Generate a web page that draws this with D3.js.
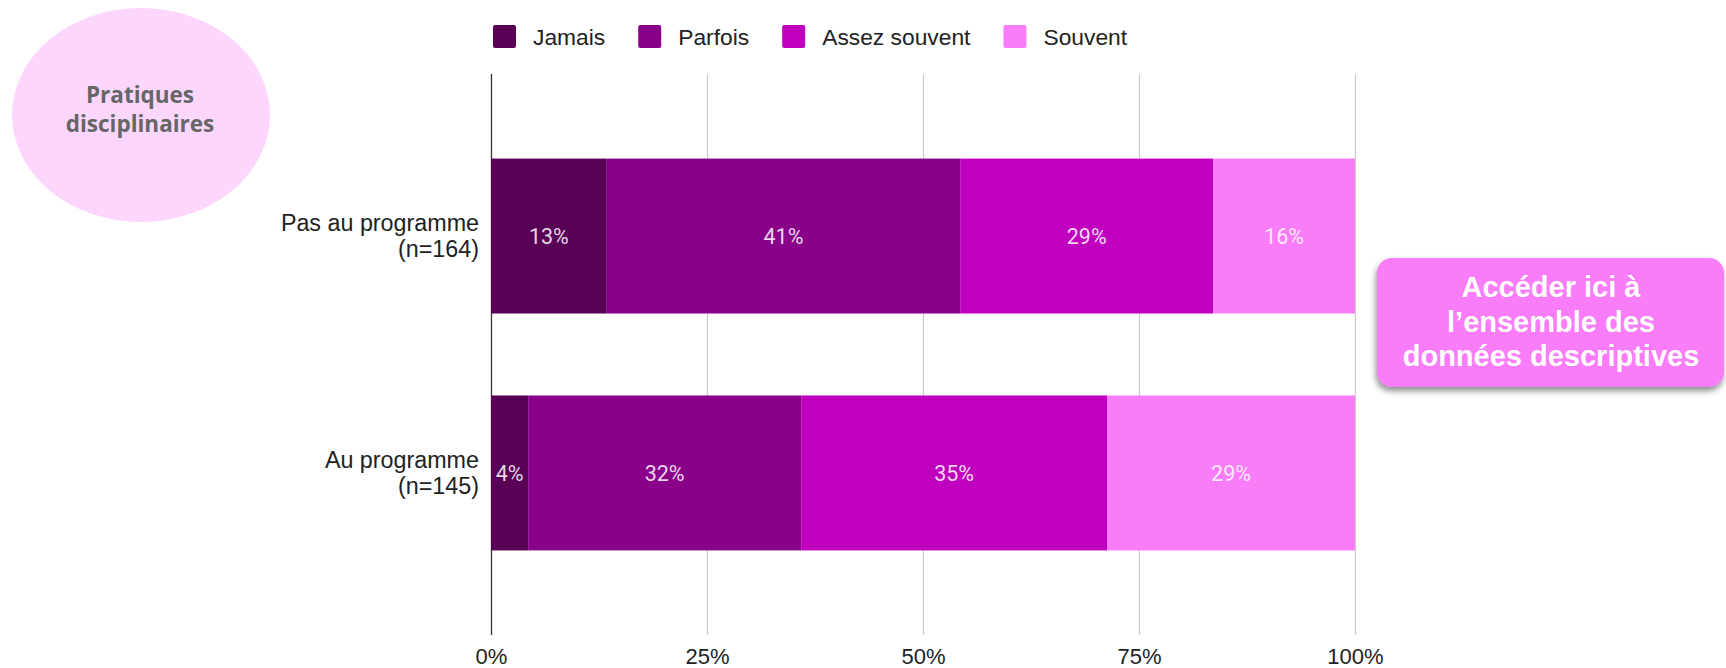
<!DOCTYPE html>
<html>
<head>
<meta charset="utf-8">
<script src="https://cdn.jsdelivr.net/npm/d3@7"></script>
<style>
  body { margin: 0; background: #fff; }
  svg { display: block; }
</style>
</head>
<body>
<div id="chart"></div>
<script>
// donnees
var categories = ["Pas au programme (n=164)", "Au programme (n=145)"];
var categoryLines = [["Pas au programme", "(n=164)"], ["Au programme", "(n=145)"]];
var keys = ["Jamais", "Parfois", "Assez souvent", "Souvent"];
var jamais = [13.4, 4.3];
var parfois = [40.9, 31.6];
var assezSouvent = [29.3, 35.4];
var souvent = [16.4, 28.7];
var tickValues = [0, 25, 50, 75, 100];
var tickLabels = ["0%", "25%", "50%", "75%", "100%"];
var titleLines = ["Pratiques", "disciplinaires"];
var buttonLines = ["Accéder ici à", "l\u2019ensemble des", "données descriptives"];

var width = 1726,
    height = 668;

var color = d3.scaleOrdinal()
    .domain(keys)
    .range(['#570056', '#890089', '#bf00bf', '#f97cf9']);

var rows = categories.map(function (c, i) {
    return {
        cat: c,
        lines: categoryLines[i],
        Jamais: jamais[i],
        Parfois: parfois[i],
        "Assez souvent": assezSouvent[i],
        Souvent: souvent[i]
    };
});

var stacked = d3.stack().keys(keys)(rows);

var x = d3.scaleLinear()
    .domain([0, 100])
    .range([491, 1355]);

var y = d3.scaleBand()
    .domain(categories)
    .range([74, 635])
    .paddingInner(0.346)
    .paddingOuter(0.357);

var svg = d3.select("#chart").append("svg")
    .attr("width", width)
    .attr("height", height);

var defs = svg.append("defs");
defs.append("filter")
    .attr("id", "shadow")
    .attr("x", "-10%").attr("y", "-10%")
    .attr("width", "120%").attr("height", "130%")
    .append("feDropShadow")
    .attr("dx", -1)
    .attr("dy", 4)
    .attr("stdDeviation", 3)
    .attr("flood-color", "#000")
    .attr("flood-opacity", 0.45);

// bulle titre
svg.append("ellipse")
    .attr("cx", 141)
    .attr("cy", 115)
    .attr("rx", 129)
    .attr("ry", 107)
    .style("fill", "#fcd6fc");

svg.append("text")
    .attr("x", 140)
    .attr("y", 103)
    .attr("text-anchor", "middle")
    .style("font-family", "'Open Sans', sans-serif")
    .style("font-weight", "bold")
    .style("font-size", "22.5px")
    .style("fill", "#666")
    .selectAll("tspan")
    .data(titleLines)
    .enter()
    .append("tspan")
    .attr("x", 140)
    .attr("dy", function (d, i) { return i === 0 ? 0 : 29 })
    .text(function (d) { return d });

// grille + axe x
var axis = d3.axisBottom(x)
    .tickValues(tickValues)
    .tickFormat(function (d, i) { return tickLabels[i] })
    .tickSizeInner(-(635 - 74))
    .tickSizeOuter(0)
    .tickPadding(13);

var gAxis = svg.append("g")
    .attr("transform", "translate(0,635)")
    .call(axis);
gAxis.select(".domain").remove();
gAxis.selectAll("line")
    .style("stroke", function (d) { return d === 0 ? "#333" : "#ccc" })
    .style("stroke-width", 1.3);
gAxis.selectAll("text")
    .style("font-family", "'Liberation Sans', Arial, sans-serif")
    .style("font-size", "22px")
    .style("fill", "#222");

// barres
var layers = svg.selectAll(".layer")
    .data(stacked)
    .enter().append("g")
    .attr("class", "layer")
    .style("fill", function (d) { return color(d.key) });

layers.selectAll("rect")
    .data(function (d) { return d })
    .enter().append("rect")
    .attr("x", function (d) { return x(d[0]) })
    .attr("y", function (d) { return y(d.data.cat) })
    .attr("width", function (d) { return x(d[1]) - x(d[0]) })
    .attr("height", y.bandwidth());

layers.selectAll(".val")
    .data(function (d) { return d })
    .enter().append("text")
    .attr("class", "val")
    .attr("x", function (d) { return (x(d[0]) + x(d[1])) / 2 })
    .attr("y", function (d) { return y(d.data.cat) + y.bandwidth() / 2 })
    .attr("dy", "0.36em")
    .attr("text-anchor", "middle")
    .style("font-family", "Roboto, sans-serif")
    .style("font-size", "21.5px")
    .style("fill", "#fff")
    .style("fill-opacity", 0.85)
    .text(function (d) { return Math.round(d[1] - d[0]) + "%" });

// libelles des categories
svg.selectAll(".cat")
    .data(rows)
    .enter().append("text")
    .attr("class", "cat")
    .attr("text-anchor", "end")
    .attr("y", function (d) { return y(d.cat) + y.bandwidth() / 2 - 13 })
    .style("font-family", "'Liberation Sans', Arial, sans-serif")
    .style("font-size", "23.3px")
    .style("fill", "#222")
    .each(function (d) {
        var t = d3.select(this);
        d.lines.forEach(function (l, i) {
            t.append("tspan")
                .attr("x", 479)
                .attr("dy", i === 0 ? "0.36em" : 26)
                .text(l);
        });
    });

// legende
var legend = svg.append("g").attr("transform", "translate(493,25)");
var lx = 0;
keys.forEach(function (k) {
    legend.append("rect")
        .attr("x", lx)
        .attr("y", 0)
        .attr("width", 23)
        .attr("height", 23)
        .attr("rx", 2)
        .style("fill", color(k));
    var t = legend.append("text")
        .attr("x", lx + 40)
        .attr("y", 20)
        .style("font-family", "'Liberation Sans', Arial, sans-serif")
        .style("font-size", "22.8px")
        .style("fill", "#222")
        .text(k);
    lx += 40 + t.node().getComputedTextLength() + 33;
});

// bouton
svg.append("rect")
    .attr("x", 1377)
    .attr("y", 258)
    .attr("width", 347)
    .attr("height", 129)
    .attr("rx", 15)
    .style("fill", "#f97cf9")
    .attr("filter", "url(#shadow)");

svg.append("text")
    .attr("text-anchor", "middle")
    .style("font-family", "'Liberation Sans', Arial, sans-serif")
    .style("font-weight", "bold")
    .style("font-size", "29px")
    .style("fill", "#fff")
    .selectAll("tspan")
    .data(buttonLines)
    .enter().append("tspan")
    .attr("x", 1551)
    .attr("y", function (d, i) { return 297 + i * 34.5 })
    .text(function (d) { return d });
</script>
</body>
</html>
